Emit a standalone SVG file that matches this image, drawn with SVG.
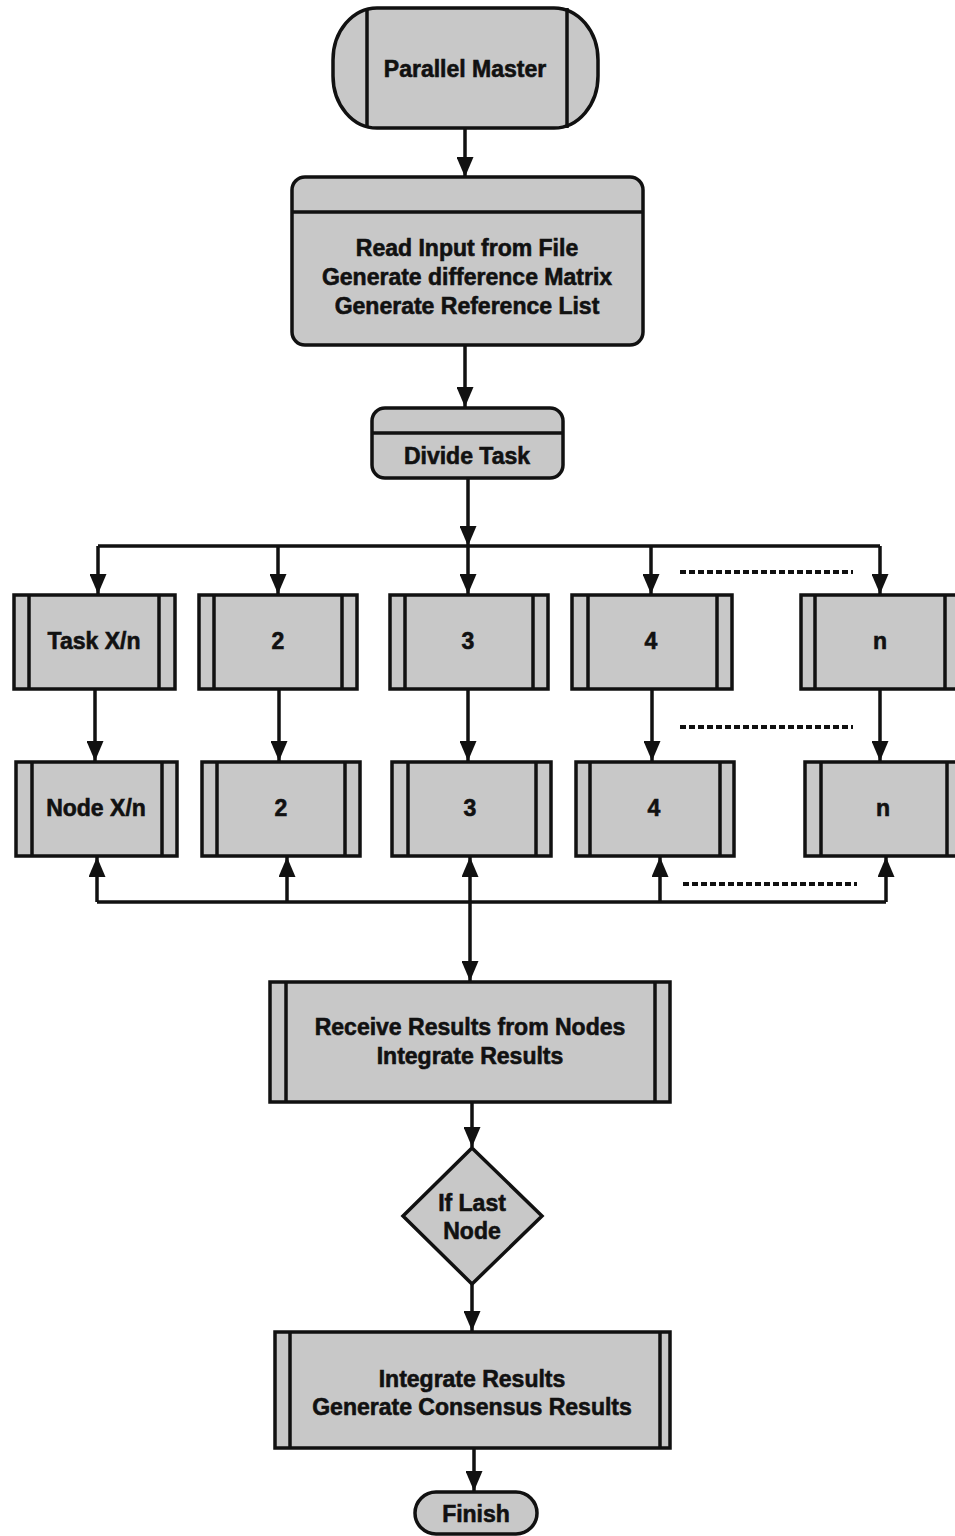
<svg xmlns="http://www.w3.org/2000/svg" width="955" height="1536" viewBox="0 0 955 1536">
  <style>
    .shape { fill: #c8c8c8; stroke: #111; stroke-width: 3.5; }
    .bar { stroke: #111; stroke-width: 3.5; fill: none; }
    .label { font-family: "Liberation Sans", Arial, sans-serif; font-weight: bold; font-size: 23px; fill: #111; stroke: #111; stroke-width: 0.6; text-anchor: middle; dominant-baseline: central; }
    .wire { stroke: #111; stroke-width: 3.5; fill: none; }
    .arrow { marker-end: url(#head); }
    .dots { stroke: #111; stroke-width: 4; stroke-dasharray: 6 3; fill: none; }
  </style>
  <defs>
    <marker id="head" markerUnits="userSpaceOnUse" markerWidth="20" markerHeight="17" refX="20" refY="8.5" orient="auto">
      <path d="M0,0 L20,8.5 L0,17 z" fill="#111"/>
    </marker>
  </defs>

  <rect width="955" height="1536" fill="#fff"/>

  <!-- connectors -->
  <g id="connectors">
    <path class="wire arrow" d="M465,128 V177"/>
    <path class="wire arrow" d="M465,345 V407"/>
    <path class="wire arrow" d="M468,478 V546"/>
    <path class="wire" d="M98,546 H880"/>
    <path class="wire arrow" d="M98,546 V594"/>
    <path class="wire arrow" d="M278,546 V594"/>
    <path class="wire arrow" d="M468,546 V594"/>
    <path class="wire arrow" d="M651,546 V594"/>
    <path class="wire arrow" d="M880,546 V594"/>
    <path class="wire arrow" d="M95,689 V761"/>
    <path class="wire arrow" d="M279,689 V761"/>
    <path class="wire arrow" d="M468,689 V761"/>
    <path class="wire arrow" d="M652,689 V761"/>
    <path class="wire arrow" d="M880,689 V761"/>
    <path class="wire" d="M97,902 H886"/>
    <path class="wire arrow" d="M97,902 V857"/>
    <path class="wire arrow" d="M287,902 V857"/>
    <path class="wire arrow" d="M470,902 V857"/>
    <path class="wire arrow" d="M660,902 V857"/>
    <path class="wire arrow" d="M886,902 V857"/>
    <path class="wire arrow" d="M470,902 V981"/>
    <path class="wire arrow" d="M472,1102 V1147"/>
    <path class="wire arrow" d="M472,1284 V1331"/>
    <path class="wire arrow" d="M474,1448 V1491"/>
    <path class="dots" d="M680,572 H853"/>
    <path class="dots" d="M680,727 H853"/>
    <path class="dots" d="M683,884 H857"/>
  </g>

  <g id="parallel-master">
    <rect class="shape" x="333" y="8" width="265" height="120" rx="44" ry="52"/>
    <path class="bar" d="M367,8 V128 M567,8 V128"/>
    <text class="label" x="465" y="69">Parallel Master</text>
  </g>

  <g id="read-input">
    <rect class="shape" x="292" y="177" width="351" height="168" rx="13"/>
    <path class="bar" d="M292,212 H643"/>
    <text class="label" x="467" y="248">Read Input from File</text>
    <text class="label" x="467" y="277">Generate difference Matrix</text>
    <text class="label" x="467" y="306">Generate Reference List</text>
  </g>

  <g id="divide-task">
    <rect class="shape" x="372" y="408" width="191" height="70" rx="13"/>
    <path class="bar" d="M372,433 H563"/>
    <text class="label" x="467" y="456">Divide Task</text>
  </g>

  <g id="task-1">
    <rect class="shape" x="14" y="595" width="161" height="94"/>
    <path class="bar" d="M29,595 V689 M159,595 V689"/>
    <text class="label" x="94" y="641">Task X/n</text>
  </g>
  <g id="task-2">
    <rect class="shape" x="199" y="595" width="158" height="94"/>
    <path class="bar" d="M214,595 V689 M342,595 V689"/>
    <text class="label" x="278" y="641">2</text>
  </g>
  <g id="task-3">
    <rect class="shape" x="390" y="595" width="158" height="94"/>
    <path class="bar" d="M405,595 V689 M533,595 V689"/>
    <text class="label" x="468" y="641">3</text>
  </g>
  <g id="task-4">
    <rect class="shape" x="572" y="595" width="160" height="94"/>
    <path class="bar" d="M588,595 V689 M717,595 V689"/>
    <text class="label" x="651" y="641">4</text>
  </g>
  <g id="task-n">
    <rect class="shape" x="801" y="595" width="160" height="94"/>
    <path class="bar" d="M815,595 V689 M945,595 V689"/>
    <text class="label" x="880" y="641">n</text>
  </g>

  <g id="node-1">
    <rect class="shape" x="16" y="762" width="161" height="94"/>
    <path class="bar" d="M32,762 V856 M162,762 V856"/>
    <text class="label" x="96" y="808">Node X/n</text>
  </g>
  <g id="node-2">
    <rect class="shape" x="202" y="762" width="158" height="94"/>
    <path class="bar" d="M217,762 V856 M345,762 V856"/>
    <text class="label" x="281" y="808">2</text>
  </g>
  <g id="node-3">
    <rect class="shape" x="392" y="762" width="159" height="94"/>
    <path class="bar" d="M408,762 V856 M536,762 V856"/>
    <text class="label" x="470" y="808">3</text>
  </g>
  <g id="node-4">
    <rect class="shape" x="576" y="762" width="158" height="94"/>
    <path class="bar" d="M590,762 V856 M720,762 V856"/>
    <text class="label" x="654" y="808">4</text>
  </g>
  <g id="node-n">
    <rect class="shape" x="805" y="762" width="160" height="94"/>
    <path class="bar" d="M821,762 V856 M947,762 V856"/>
    <text class="label" x="883" y="808">n</text>
  </g>

  <g id="receive-results">
    <rect class="shape" x="270" y="982" width="400" height="120"/>
    <path class="bar" d="M286,982 V1102 M655,982 V1102"/>
    <text class="label" x="470" y="1027">Receive Results from Nodes</text>
    <text class="label" x="470" y="1056">Integrate Results</text>
  </g>

  <g id="if-last-node">
    <polygon class="shape" points="472,1148 542,1216 472,1284 403,1216"/>
    <text class="label" x="472" y="1203">If Last</text>
    <text class="label" x="472" y="1231">Node</text>
  </g>

  <g id="consensus">
    <rect class="shape" x="275" y="1332" width="395" height="116"/>
    <path class="bar" d="M290,1332 V1448 M660,1332 V1448"/>
    <text class="label" x="472" y="1379">Integrate Results</text>
    <text class="label" x="472" y="1407">Generate Consensus Results</text>
  </g>

  <g id="finish">
    <rect class="shape" x="415" y="1492" width="122" height="42" rx="21"/>
    <text class="label" x="476" y="1514">Finish</text>
  </g>
</svg>
